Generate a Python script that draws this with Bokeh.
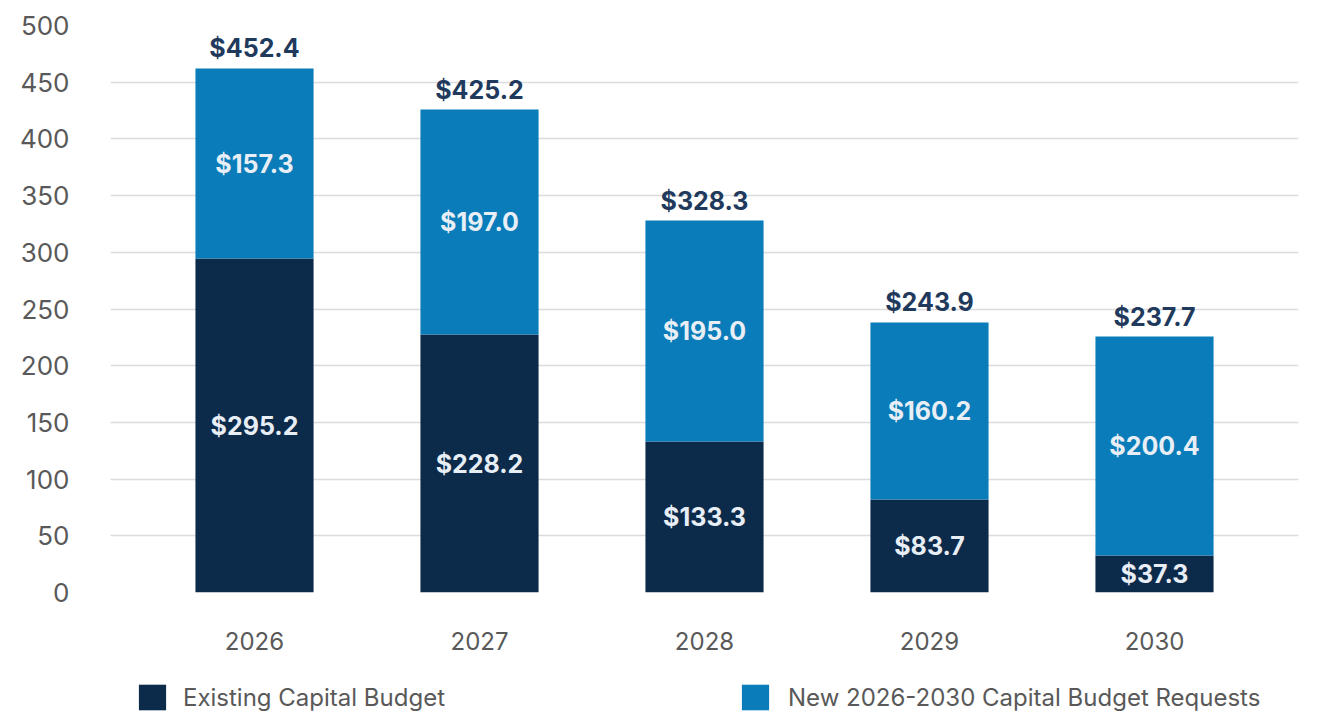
from bokeh.plotting import figure
from bokeh.layouts import column
from bokeh.models import ColumnDataSource, FactorRange, Legend, LegendItem
from bokeh.core.properties import value
from bokeh.embed import file_html
from bokeh.resources import INLINE

years = ["2026", "2027", "2028", "2029", "2030"]
# bar heights as drawn in the reference
existing_drawn = [294.5, 227.5, 133.2, 82.0, 32.6]
new_drawn = [167.6, 198.4, 194.8, 156.1, 193.1]
# printed values
existing_labels = ["$295.2", "$228.2", "$133.3", "$83.7", "$37.3"]
new_labels = ["$157.3", "$197.0", "$195.0", "$160.2", "$200.4"]
total_labels = ["$452.4", "$425.2", "$328.3", "$243.9", "$237.7"]
y_ticks = [0, 50, 100, 150, 200, 250, 300, 350, 400, 450, 500]
series_names = ["Existing Capital Budget", "New 2026-2030 Capital Budget Requests"]

NAVY = "#0c2a4a"
BLUE = "#097cb9"
FONT = "Inter"
W = 1335

totals = [e + n for e, n in zip(existing_drawn, new_drawn)]
src = ColumnDataSource(dict(
    x=years,
    existing=existing_drawn,
    total=totals,
    e_mid=[e / 2 for e in existing_drawn],
    n_mid=[e + n / 2 for e, n in zip(existing_drawn, new_drawn)],
    e_lab=existing_labels,
    n_lab=new_labels,
    t_lab=total_labels,
))

p = figure(x_range=FactorRange(*years, range_padding=0.056), y_range=(0, 500),
           width=W, height=656, output_backend="svg", toolbar_location=None,
           min_border_left=110, min_border_right=37, min_border_top=25,
           min_border_bottom=64)
p.frame_align = False

r1 = p.vbar(x="x", bottom=0, top="existing", width=0.525, source=src,
            fill_color=NAVY, line_color=None)
r2 = p.vbar(x="x", bottom="existing", top="total", width=0.525, source=src,
            fill_color=BLUE, line_color=None)

common = dict(source=src, text_align="center", text_font=value(FONT),
              text_font_style="bold", text_font_size="25px")
p.text(x="x", y="e_mid", text="e_lab", text_baseline="middle",
       text_color="#e8eef5", **common)
p.text(x="x", y="n_mid", text="n_lab", text_baseline="middle",
       text_color="#e8eef5", **common)
p.text(x="x", y="total", text="t_lab", text_baseline="bottom", y_offset=-5,
       text_color="#1f3a5c", **common)

p.outline_line_color = None
p.xgrid.visible = False
p.ygrid.grid_line_color = "#dcdcdc"
p.ygrid.grid_line_width = 1.5
p.yaxis.ticker = y_ticks

for ax in (p.xaxis[0], p.yaxis[0]):
    ax.axis_line_color = None
    ax.major_tick_line_color = None
    ax.minor_tick_line_color = None
    ax.major_label_text_color = "#595959"
    ax.major_label_text_font = FONT

p.yaxis.major_label_text_font_size = "26px"
p.yaxis.major_label_standoff = 35
p.xaxis.major_label_text_font_size = "24px"
p.xaxis.major_label_standoff = 33

# legend strip below the chart
lf = figure(width=W, height=57, x_range=(0, 1), y_range=(0, 1),
            x_axis_type=None, y_axis_type=None, output_backend="svg",
            toolbar_location=None, min_border=0)
lf.frame_align = False
lf.outline_line_color = None
lf.grid.visible = False
d1 = lf.vbar(x=[0.5], top=[0], bottom=[0], width=0.0, fill_color=NAVY,
             line_color=None, fill_alpha=1)
d2 = lf.vbar(x=[0.5], top=[0], bottom=[0], width=0.0, fill_color=BLUE,
             line_color=None, fill_alpha=1)
for r, name, x0, so in zip([d1, d2], series_names, [135, 738], [14, 16]):
    lg = Legend(items=[LegendItem(label=name, renderers=[r])],
                location=(x0, 0),
                glyph_width=34, glyph_height=32, label_standoff=so,
                label_text_font=FONT, label_text_font_size="24px",
                label_text_color="#595959", padding=0, margin=0,
                border_line_color=None, background_fill_alpha=0,
                label_height=32)
    lf.add_layout(lg, "center")

open("out.html", "w").write(file_html(column(p, lf), INLINE))
